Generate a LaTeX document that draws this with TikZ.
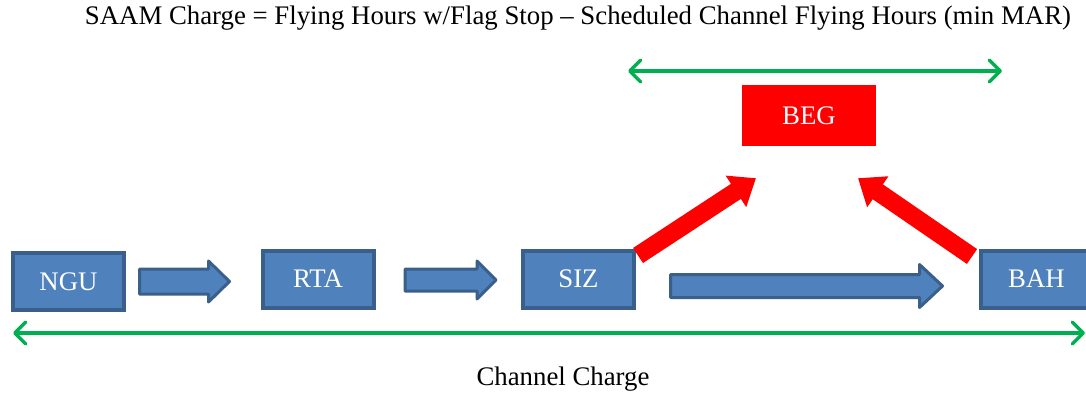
\documentclass[tikz,border=0pt]{standalone}
\usepackage{fontspec}
\setmainfont{Liberation Serif}
\usetikzlibrary{arrows.meta,calc}
\definecolor{boxblue}{HTML}{4F81BD}
\definecolor{boxedge}{HTML}{3A5F8B}
\definecolor{chgreen}{HTML}{00B050}
\definecolor{begred}{HTML}{FF0000}
\tikzset{
  stationbox/.style={draw=boxedge, fill=boxblue, line width=4pt, minimum width=111pt, minimum height=57pt, inner sep=0pt, text=white, font=\fontsize{26.8}{27}\selectfont},
  begbox/.style={fill=begred, minimum width=134pt, minimum height=61pt, inner sep=0pt, text=white, font=\fontsize{26.8}{27}\selectfont},
  chargearrow/.style={chgreen, line width=3.5pt, {Straight Barb[length=11pt,width=22pt,line cap=round,line join=round]}-{Straight Barb[length=11pt,width=22pt,line cap=round,line join=round]}},
  redarrow/.style={begred, line width=18pt, -{Triangle[length=24pt,width=36pt]}},
  blockarrow/.style={draw=boxedge, fill=boxblue, line width=3pt, line join=round},
  labeltext/.style={font=\fontsize{26.8}{28}\selectfont, inner sep=0pt}
}
\begin{document}
\begin{tikzpicture}[x=1pt,y=-1pt]
\useasboundingbox (0,0) rectangle (1086,394);
% title
\node[labeltext] (title) at (578,18) {SAAM Charge = Flying Hours w/Flag Stop -- Scheduled Channel Flying Hours (min MAR)};
\node[labeltext] (chan) at (563,379) {Channel Charge};
% boxes
\node[stationbox] (ngu) at (68.5,281.5) {NGU};
\node[stationbox] (rta) at (318,279) {RTA};
\node[stationbox] (siz) at (578.5,279) {SIZ};
\node[stationbox] (bah) at (1036.5,279) {BAH};
\node[begbox] (beg) at (809,115.5) {BEG};
% green charge arrows
\coordinate (cl) at (13,333);
\coordinate (cr) at (1085,333);
\draw[chargearrow] (cl) -- (cr);
\coordinate (tl) at (628,71);
\coordinate (tr) at (1002,71);
\draw[chargearrow] (tl) -- (tr);
% blue block arrows
\draw[blockarrow] ($(ngu.east)+(13.5,-12.5)$) coordinate (a1s) -- ++(69,0) -- ++(0,-8) -- ++(21,20.5) -- ++(-21,20.5) -- ++(0,-8) -- ++(-69,0) -- cycle;
\draw[blockarrow] ($(rta.east)+(29.5,-10)$) coordinate (a2s) -- ++(72,0) -- ++(0,-8) -- ++(19,19) -- ++(-19,19) -- ++(0,-8) -- ++(-72,0) -- cycle;
\draw[blockarrow] ($(siz.east)+(34.5,-4.5)$) coordinate (a3s) -- ++(249,0) -- ++(0,-10) -- ++(23,21.5) -- ++(-23,21.5) -- ++(0,-10) -- ++(-249,0) -- cycle;
% red arrows
\draw[redarrow] ($(siz.north east)+(2,7)$) -- ($(beg.south)+(-53,32)$);
\draw[redarrow] ($(bah.north west)+(-7,8)$) -- ($(beg.south)+(49,32)$);
\end{tikzpicture}
\end{document}
